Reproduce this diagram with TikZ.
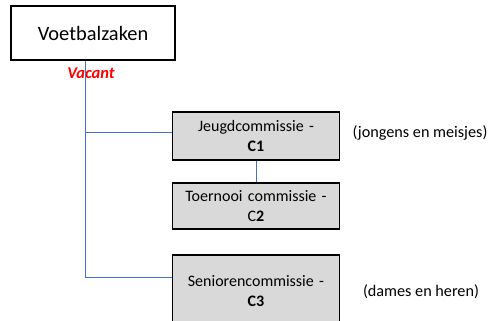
\documentclass[tikz,border=0pt]{standalone}
\usepackage{fontspec}
\setmainfont{Carlito}
\usetikzlibrary{positioning}

\definecolor{linkblue}{HTML}{4472C4}
\definecolor{boxgray}{HTML}{D9D9D9}
\definecolor{vacred}{HTML}{FF0000}

\tikzset{
    headbox/.style={rectangle, draw, line width=1.8pt, fill=white, minimum height=54pt, minimum width=164pt, font=\fontsize{20.4}{24}\selectfont},
    commbox/.style={rectangle, draw, line width=1.4pt, fill=boxgray, minimum width=164pt, text width=160pt, align=center, font=\fontsize{16}{20.5}\selectfont},
    link/.style={draw=linkblue, line width=0.8pt},
    note/.style={font=\fontsize{16.2}{19}\selectfont}
}

\begin{document}
\begin{tikzpicture}[x=1pt, y=-1pt]
    \useasboundingbox (0,0) rectangle (491,321);
    \clip (0,0) rectangle (491,321);
    \node[headbox] (top) at (93,33) {Voetbalzaken};
    \node[font=\fontsize{16.5}{18}\selectfont\bfseries\itshape, text=vacred] (vacant) at (91,73) {Vacant};
    \node[commbox, minimum height=48pt] (jeugd) at (256,136) {Jeugdcommissie -\\ \textbf{C1}};
    \node[commbox, minimum height=46pt] (toernooi) at (256,206) {Toernooi commissie -\\ C\textbf{2}};
    \node[commbox, minimum height=72pt] (senior) at (256,291) {Seniorencommissie -\\ \textbf{C3}};
    \node[note] (jnote) at (420,133) {(jongens en meisjes)};
    \node[note] (snote) at (421,292) {(dames en heren)};
    \coordinate (trunk) at (85,277);
    % lines
    \draw[link] (top.south -| trunk) -- (trunk) -- (senior.west |- trunk);
    \draw[link] (trunk |- 0,132) -- (jeugd.west |- 0,132);
    \draw[link] (jeugd.south) -- (toernooi.north);
\end{tikzpicture}
\end{document}
